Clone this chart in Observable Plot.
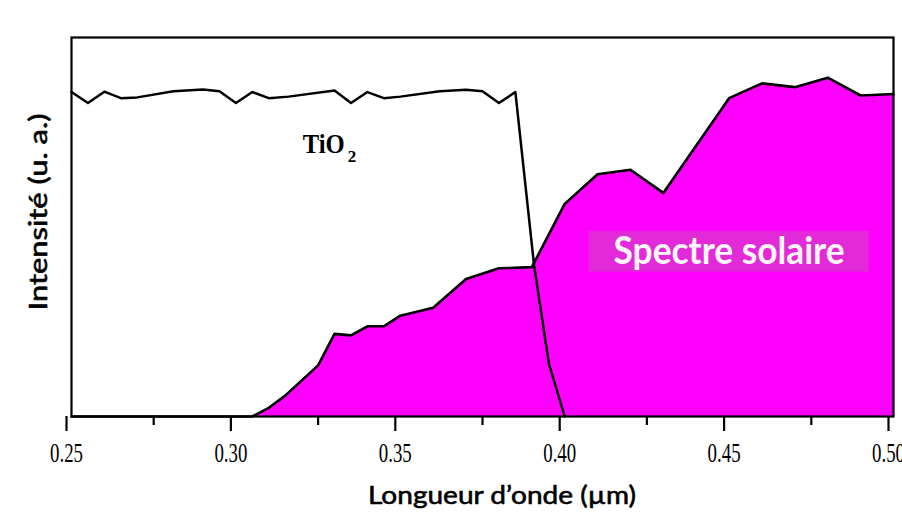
<!DOCTYPE html>
<html><head><meta charset="utf-8">
<script src="https://cdn.jsdelivr.net/npm/d3@7"></script>
<script src="https://cdn.jsdelivr.net/npm/@observablehq/plot@0.6"></script>
<style>body{margin:0;background:#fff;}</style>
</head><body><div id="chart"></div>
<script>
// TiO2 absorption curve (wavelength in µm, intensity in arbitrary units)
const tio2Wavelength = [0.25, 0.255, 0.26, 0.265, 0.27, 0.281, 0.29, 0.295, 0.30, 0.305, 0.31, 0.316, 0.33, 0.335, 0.34, 0.345, 0.35, 0.362, 0.37, 0.375, 0.38, 0.385, 0.3907, 0.3952, 0.40];
const tio2Intensity  = [85.6, 82.7, 85.7, 84.0, 84.2, 85.8, 86.3, 85.8, 82.7, 85.6, 84.0, 84.4, 86.0, 82.7, 85.6, 84.0, 84.4, 85.8, 86.2, 85.8, 82.7, 85.6, 39.8, 13.9, 0];
// Solar spectrum
const solarWavelength = [0.25, 0.305, 0.31, 0.315, 0.325, 0.33, 0.335, 0.34, 0.345, 0.35, 0.36, 0.37, 0.38, 0.39, 0.40, 0.41, 0.42, 0.43, 0.45, 0.46, 0.47, 0.48, 0.49, 0.50];
const solarIntensity  = [0, 0, 2.3, 5.5, 13.5, 21.8, 21.4, 23.8, 23.8, 26.6, 28.7, 36.3, 39.1, 39.4, 56.1, 63.9, 65.1, 59.0, 84.0, 87.9, 86.9, 89.4, 84.7, 85.1];
// Axis ticks
const majorTicks = [0.25, 0.30, 0.35, 0.40, 0.45, 0.50];
const minorTicks = [0.275, 0.325, 0.375, 0.425, 0.475];
const tickLabels = ["0.25", "0.30", "0.35", "0.40", "0.45", "0.50"];
// Texts
const xTitle = "Longueur d’onde (µm)";
const yTitle = "Intensité (u. a.)";
const solarLabel = "Spectre solaire";
const tio2Label = "TiO";
const tio2Sub = "2";

const tio2 = tio2Wavelength.map((x, i) => ({x, y: tio2Intensity[i]}));
const solar = solarWavelength.map((x, i) => ({x, y: solarIntensity[i]}));

const plot = Plot.plot({
  width: 902, height: 515,
  marginLeft: 71, marginRight: 9, marginTop: 37, marginBottom: 99,
  x: {domain: [0.25, 0.5]},
  y: {domain: [0, 100], axis: null},
  style: {fontFamily: "Liberation Serif", background: "white", color: "black"},
  marks: [
    Plot.areaY(solar, {x: "x", y: "y", fill: "#ff00ff"}),
    Plot.lineY(solar, {x: "x", y: "y", stroke: "black", strokeWidth: 2.6}),
    Plot.lineY(tio2, {x: "x", y: "y", stroke: "black", strokeWidth: 2.5}),
    Plot.rect([solarLabel], {x1: 0.4074, x2: 0.4925, y1: 38.1, y2: 48.8, fill: "#e22ad8"}),
    Plot.text([solarLabel], {x: 0.45, y: 43.4, fill: "#fff6fe", fontFamily: "Lato", fontWeight: "bold", fontSize: 38, lineAnchor: "middle"}),
    Plot.text([tio2Label], {x: 0.3203, y: 69.4, textAnchor: "start", lineAnchor: "bottom", fontWeight: "bold", fontSize: 27, fill: "black"}),
    Plot.text([tio2Sub], {x: 0.3340, y: 67.1, textAnchor: "start", lineAnchor: "bottom", fontWeight: "bold", fontSize: 17, fill: "black"}),
    Plot.frame({stroke: "black", strokeWidth: 2.2}),
    Plot.axisX({ticks: majorTicks, tickSize: 15, tickPadding: 11, strokeWidth: 2.2, dx: -5, fontSize: 28,
                tickFormat: d => tickLabels[majorTicks.indexOf(d)], label: null}),
    Plot.axisX({ticks: minorTicks, tickSize: 9, strokeWidth: 2.2, tickFormat: () => "", label: null}),
    Plot.text([xTitle], {frameAnchor: "bottom", dx: 19.5, dy: 79, textAnchor: "middle", lineAnchor: "middle", fontFamily: "Lato", fontSize: 25, fill: "black", stroke: "black", strokeWidth: 0.6}),
    Plot.text([yTitle], {frameAnchor: "left", rotate: -90, dx: -33, dy: -15, textAnchor: "middle", lineAnchor: "middle", fontFamily: "Lato", fontSize: 25, fill: "black", stroke: "black", strokeWidth: 0.6})
  ]
});

d3.select(plot).selectAll("text").each(function() {
  const t = this.textContent;
  let len = null;
  if (tickLabels.includes(t)) {
    len = 33;
    d3.select(this).attr("font-size", 28).style("font-size", "28px");
  }
  else if (t === xTitle) len = 268;
  else if (t === yTitle) len = 197;
  else if (t === solarLabel) len = 231;
  else if (t === tio2Label) len = 42;
  if (len) d3.select(this).attr("textLength", len).attr("lengthAdjust", "spacingAndGlyphs");
});

document.getElementById("chart").appendChild(plot);
</script>
</body></html>
